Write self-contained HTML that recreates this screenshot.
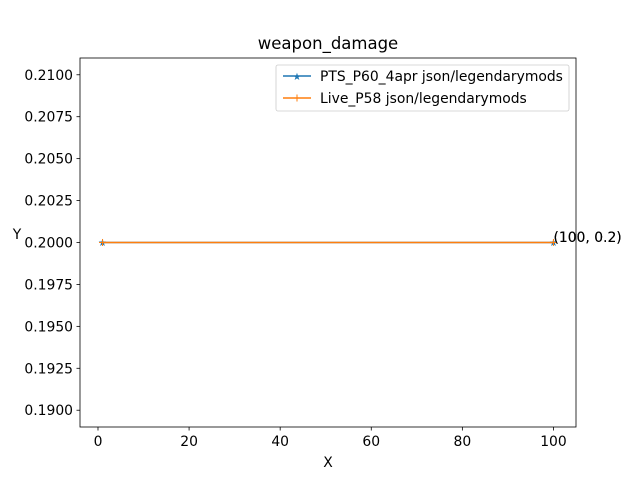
<!DOCTYPE html>
<html><head><meta charset="utf-8"><style>
body{margin:0;background:#fff}
svg{font-family:"DejaVu Sans","Liberation Sans",sans-serif}
</style></head><body>
<svg id="chart" width="640" height="480" viewBox="0 0 640 480">
<rect width="640" height="480" fill="#fff"/>
<text x="328" y="49" font-size="16.5" text-anchor="middle">weapon_damage</text>
<g id="xticks"></g>
<g id="yticks"></g>
<g id="series"></g>
<rect x="80" y="58" width="496" height="369" fill="none" stroke="#000" stroke-width="0.8"/>
<text x="328" y="467" font-size="13.9" text-anchor="middle">X</text>
<text x="17" y="239" font-size="13.9" text-anchor="middle">Y</text>
<g>
<rect x="276" y="65" width="293" height="46" rx="2" fill="#fff" fill-opacity="0.8" stroke="#ccc" stroke-width="0.8"/>
<g>
<line x1="283" y1="76" x2="311" y2="76" stroke="#1f77b4" stroke-width="1.5"/>
<text x="297" y="80" font-size="10" fill="#1f77b4" text-anchor="middle">★</text>
<text x="320" y="81" font-size="13.9">PTS_P60_4apr json/legendarymods</text>
</g>
<g>
<line x1="283" y1="98" x2="311" y2="98" stroke="#ff7f0e" stroke-width="1.5"/>
<path d="M297 94.5V101.5M293.5 98H300.5" stroke="#ff7f0e" stroke-width="1"/>
<text x="320" y="103" font-size="13.9">Live_P58 json/legendarymods</text>
</g>
</g>
</svg>
<script>
const xs = [1, 100];
const ptsValues = [0.2, 0.2];
const liveValues = [0.2, 0.2];
const xTickLabels = [0, 20, 40, 60, 80, 100];
const yTickLabels = [0.19, 0.1925, 0.195, 0.1975, 0.2, 0.2025, 0.205, 0.2075, 0.21];
const NS = "http://www.w3.org/2000/svg";
const X0=80,X1=576,Y0=427,Y1=58;
const xmin=-3.95,xmax=104.95,ymin=0.189,ymax=0.211;
const sx=v=>X0+(v-xmin)/(xmax-xmin)*(X1-X0);
const sy=v=>Y0-(v-ymin)/(ymax-ymin)*(Y0-Y1);
function mk(tag,attrs,parent){const e=document.createElementNS(NS,tag);for(const k in attrs)e.setAttribute(k,attrs[k]);parent.appendChild(e);return e;}
const gx=document.getElementById('xticks'),gy=document.getElementById('yticks'),gs=document.getElementById('series');
xTickLabels.forEach(v=>{
  const l=mk('line',{x1:sx(v),x2:sx(v),y1:Y0,y2:Y0+3.5,stroke:'#000','stroke-width':0.8},gx);
  
  
  const t=mk('text',{x:sx(v),y:Y0+19,'font-size':13.9,'text-anchor':'middle'},gx);
  t.textContent=v;
  
  
});
yTickLabels.forEach(v=>{
  const l=mk('line',{x1:X0-3.5,x2:X0,y1:sy(v),y2:sy(v),stroke:'#000','stroke-width':0.8},gy);
  
  
  const t=mk('text',{x:X0-7,y:sy(v)+5,'font-size':13.9,'text-anchor':'end'},gy);
  t.textContent=v.toFixed(4);
  
  
});
function drawSeries(vals,color,marker,name){
  const p=mk('polyline',{points:xs.map((x,i)=>sx(x)+','+sy(vals[i])).join(' '),fill:'none',stroke:color,'stroke-width':1.5},gs);
  
  
  xs.forEach((x,i)=>{
    const cx=sx(x),cy=sy(vals[i]);
    let m;
    if(marker==='star'){m=mk('text',{x:cx,y:cy+3.5,'font-size':10,fill:color,'text-anchor':'middle'},gs);m.textContent='★';}
    else{m=mk('path',{d:`M${cx} ${cy-3.5}V${cy+3.5}M${cx-3.5} ${cy}H${cx+3.5}`,stroke:color,'stroke-width':1},gs);}
    
    
  });
  const last=xs.length-1;
  const a=mk('text',{x:sx(xs[last]),y:sy(vals[last])-0.5,'font-size':13.9},gs);
  a.textContent='('+xs[last]+', '+vals[last]+')';
  
  
}
drawSeries(ptsValues,'#1f77b4','star','pts');
drawSeries(liveValues,'#ff7f0e','plus','live');
</script>
</body></html>
